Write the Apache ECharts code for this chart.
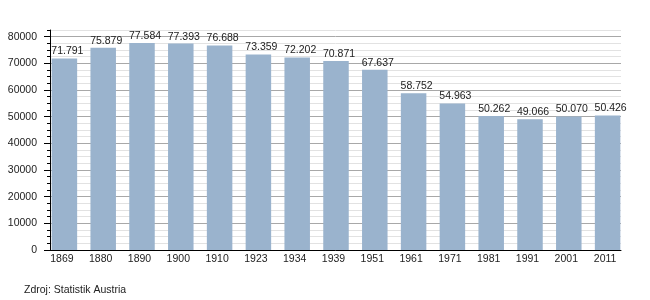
<!DOCTYPE html>
<html>
<head>
<meta charset="utf-8">
<script src="https://cdn.jsdelivr.net/npm/echarts@6/dist/echarts.min.js"></script>
<style>
html,body{margin:0;padding:0;background:#fff;}
#c{width:650px;height:300px;}
</style>
</head>
<body>
<div id="c"></div>
<script>
const categories = ['1869','1880','1890','1900','1910','1923','1934','1939','1951','1961','1971','1981','1991','2001','2011'];
const population = [71791,75879,77584,77393,76688,73359,72202,70871,67637,58752,54963,50262,49066,50070,50426];
const yMax = 82500;
const yMajorMax = 80000;
const sourceText = 'Zdroj: Statistik Austria';

const FONT = "'Liberation Sans', Arial, Helvetica, sans-serif";
const TXT = '#222';

function fmtThousands(v){
  return String(v).replace(/\B(?=(\d{3})+(?!\d))/g, '.');
}

const chart = echarts.init(document.getElementById('c'), null, {renderer:'canvas'});
const plotH = 220;
const topMajor = 30 + plotH * (yMax - yMajorMax) / yMax;

chart.setOption({
  animation: false,
  backgroundColor: '#fff',
  textStyle: {fontFamily: FONT},
  title: {
    text: sourceText,
    left: 19, top: 280,
    textStyle: {fontSize: 10.5, fontWeight: 'normal', color: TXT, fontFamily: FONT}
  },
  grid: [
    {left: 50, right: 29, top: 30, bottom: 50},
    {left: 50, right: 29, top: topMajor, bottom: 50},
    {left: 45, right: 23, top: 30, bottom: 50}
  ],
  xAxis: [
    {gridIndex: 0, type: 'category', data: categories,
     axisLine: {show: true, lineStyle: {color: '#000', width: 1}},
     axisTick: {show: false}, axisLabel: {show: false}, splitLine: {show: false}},
    {gridIndex: 1, type: 'category', data: categories, show: false},
    {gridIndex: 2, type: 'category', data: categories,
     axisLine: {show: false}, axisTick: {show: false},
     axisLabel: {show: true, fontSize: 10.5, color: TXT, fontFamily: FONT, margin: 4, padding: [0, 5, 0, 0]},
     splitLine: {show: false}}
  ],
  yAxis: [
    {gridIndex: 0, type: 'value', min: 0, max: yMax, interval: 2500,
     axisLine: {show: true, lineStyle: {color: '#000', width: 1}},
     axisTick: {show: true, length: 3, lineStyle: {color: '#000'}},
     axisLabel: {show: false},
     splitLine: {show: true, showMinLine: true, showMaxLine: true,
       lineStyle: {color: ['#a8a8a8', '#e2e2e2', '#e2e2e2', '#e2e2e2'], width: 1}}},
    {gridIndex: 1, type: 'value', min: 0, max: yMajorMax, interval: 10000,
     axisLine: {show: false},
     axisTick: {show: true, length: 6, lineStyle: {color: '#000'}},
     axisLabel: {show: true, fontSize: 10.5, color: TXT, fontFamily: FONT, margin: 13,
       formatter: v => String(v)},
     splitLine: {show: false}},
    {gridIndex: 2, type: 'value', min: 0, max: yMax, show: false}
  ],
  series: [{
    type: 'bar',
    xAxisIndex: 2, yAxisIndex: 2,
    data: population,
    barWidth: 25.5,
    itemStyle: {color: '#9ab3cd'},
    label: {
      show: true, position: 'top', distance: 1.5, offset: [3, 0],
      fontSize: 10.5, color: TXT, fontFamily: FONT,
      formatter: p => fmtThousands(p.value)
    }
  }]
});
</script>
</body>
</html>
